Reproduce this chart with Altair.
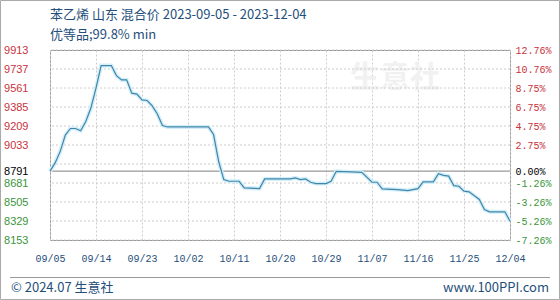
import altair as alt
import pandas as pd

# ---------------- data ----------------
dates = ["2023-09-05", "2023-09-06", "2023-09-07", "2023-09-08", "2023-09-09", "2023-09-10",
         "2023-09-11", "2023-09-12", "2023-09-13", "2023-09-14", "2023-09-15", "2023-09-17",
         "2023-09-18", "2023-09-19", "2023-09-20", "2023-09-21", "2023-09-22", "2023-09-23",
         "2023-09-24", "2023-09-25", "2023-09-26", "2023-09-27", "2023-09-28", "2023-10-06",
         "2023-10-07", "2023-10-08", "2023-10-09", "2023-10-10", "2023-10-12", "2023-10-13",
         "2023-10-16", "2023-10-17", "2023-10-22", "2023-10-23", "2023-10-24", "2023-10-25",
         "2023-10-26", "2023-10-27", "2023-10-29", "2023-10-30", "2023-10-31", "2023-11-03",
         "2023-11-05", "2023-11-07", "2023-11-08", "2023-11-09", "2023-11-12", "2023-11-14",
         "2023-11-15", "2023-11-16", "2023-11-17", "2023-11-19", "2023-11-20", "2023-11-21",
         "2023-11-22", "2023-11-23", "2023-11-24", "2023-11-25", "2023-11-26", "2023-11-28",
         "2023-11-29", "2023-11-30", "2023-12-03", "2023-12-04"]
prices = [8791, 8867, 8974, 9125, 9186, 9186,
          9165, 9251, 9375, 9560, 9769, 9769,
          9676, 9636, 9636, 9513, 9504, 9451,
          9445, 9395, 9320, 9214, 9200, 9200,
          9130, 8880, 8713, 8697, 8697, 8636,
          8629, 8719, 8719, 8728, 8713, 8719,
          8688, 8676, 8676, 8697, 8789, 8784,
          8780, 8688, 8688, 8627, 8620, 8611,
          8620, 8629, 8691, 8691, 8768, 8752,
          8745, 8657, 8651, 8605, 8599, 8528,
          8435, 8414, 8414, 8327]

base_price = 8791
grid_values = [8153, 8329, 8505, 8681, 8857, 9033, 9209, 9385, 9561, 9737, 9913]
left_ticks = [8153, 8329, 8505, 8681, 8791, 9033, 9209, 9385, 9561, 9737, 9913]
right_labels = ["-7.26%", "-5.26%", "-3.26%", "-1.26%", "0.00%", "2.75%",
                "4.75%", "6.75%", "8.75%", "10.76%", "12.76%"]
x_ticks = [(2023, 9, 5), (2023, 9, 14), (2023, 9, 23), (2023, 10, 2), (2023, 10, 11),
           (2023, 10, 20), (2023, 10, 29), (2023, 11, 7), (2023, 11, 16), (2023, 11, 25),
           (2023, 12, 4)]

title_text = "苯乙烯 山东 混合价 2023-09-05 - 2023-12-04"
subtitle_text = "优等品;99.8% min"
footer_left = "© 2024.07 生意社"
footer_right = "www.100PPI.com"
watermark = "生意社"

# ---------------- chart ----------------
line_df = pd.DataFrame({"date": dates, "price": prices})
grid_df = pd.DataFrame({"v": grid_values})
base_df = pd.DataFrame({"v": [base_price]})

RED = "#c8323c"
GREEN = "#3a963a"
BLUE_TXT = "#1f4f7a"

ydomain = [8153, 9913]
yscale = alt.Scale(domain=ydomain, nice=False, zero=False)
xscale = alt.Scale(type="utc",
                   domain=[alt.DateTime(year=2023, month=9, date=5, utc=True),
                           alt.DateTime(year=2023, month=12, date=4, utc=True)])

color_expr = f"datum.value > {base_price} ? '{RED}' : (datum.value == {base_price} ? '#000000' : '{GREEN}')"

left_axis = alt.Axis(values=left_ticks, title=None, grid=False, domain=False, ticks=False,
                     labelPadding=22, labelFont="Liberation Sans", labelFontSize=11,
                     labelFlush=False, labelOverlap=False,
                     labelColor=alt.ExprRef(expr=color_expr), format="d")

tick_list = ",".join(str(v) for v in left_ticks)
lab_list = ",".join("'" + s + "'" for s in right_labels)
right_axis = alt.Axis(values=left_ticks, orient="right", title=None, grid=False, domain=False,
                      ticks=False, labelPadding=5, labelFont="Liberation Mono", labelFontSize=10,
                      labelFlush=False, labelOverlap=False,
                      labelColor=alt.ExprRef(expr=color_expr),
                      labelExpr=f"[{lab_list}][indexof([{tick_list}], datum.value)]")

x_axis = alt.Axis(values=[alt.DateTime(year=y, month=m, date=d, utc=True) for y, m, d in x_ticks],
                  title=None, grid=True, gridColor="#cccccc", gridDash=[2, 2], domain=False,
                  ticks=False, labelPadding=13, labelFont="Liberation Mono", labelFontSize=10,
                  labelFlush=False, labelOverlap=False,
                  labelColor=BLUE_TXT, labelExpr="utcFormat(datum.value, '%m/%d')")

grid = alt.Chart(grid_df).mark_rule(color="#cccccc", strokeDash=[2, 2], strokeWidth=1).encode(
    y=alt.Y("v:Q", scale=yscale, axis=left_axis))
base_rule = alt.Chart(base_df).mark_rule(color="#999999", strokeWidth=1.2).encode(
    y=alt.Y("v:Q", scale=yscale, axis=left_axis))

wm = alt.Chart(pd.DataFrame({"t": [watermark]})).mark_text(
    font="Noto Sans CJK SC", fontSize=30, fontWeight="bold", color="#f1f1f1", align="left",
    baseline="middle").encode(text="t:N", x=alt.value(300), y=alt.value(28))

halo = alt.Chart(line_df).mark_line(color="#d3eef8", strokeWidth=4).encode(
    x=alt.X("date:T", scale=xscale, axis=x_axis),
    y=alt.Y("price:Q", scale=yscale, axis=left_axis))
line = alt.Chart(line_df).mark_line(color="#3f86aa", strokeWidth=1.2).encode(
    x=alt.X("date:T", scale=xscale, axis=x_axis),
    y=alt.Y("price:Q", scale=yscale, axis=left_axis))

inner = alt.layer(wm, grid, base_rule, halo, line)

right = alt.Chart(line_df).mark_line(opacity=0).encode(
    x=alt.X("date:T", scale=xscale, axis=x_axis),
    y=alt.Y("price:Q", scale=yscale, axis=right_axis))

def txt(s, x, y, size, align="left", color=BLUE_TXT, font="Noto Sans CJK SC"):
    return alt.Chart(pd.DataFrame({"t": [s]})).mark_text(
        font=font, fontSize=size, color=color, align=align, baseline="middle").encode(
        text="t:N", x=alt.value(x), y=alt.value(y))

title = txt(title_text, 0, -35, 13)
subtitle = txt(subtitle_text, 0, -15, 13)
f_left = txt(footer_left, -39, 238, 13)
f_right = txt(footer_right, 499, 238, 13, align="right")

footer_line = alt.Chart(pd.DataFrame({"a": [0]})).mark_rule(color="#999999", strokeWidth=1).encode(
    x=alt.value(-40), x2=alt.value(500), y=alt.value(227.5))
border = alt.Chart(pd.DataFrame({"a": [0]})).mark_rect(
    filled=False, stroke="#aaaaaa", strokeWidth=1).encode(
    x=alt.value(-49.5), x2=alt.value(509.5), y=alt.value(-49.5), y2=alt.value(249.5))

chart = alt.layer(inner, right, title, subtitle, f_left, f_right, footer_line, border).resolve_scale(
    y="independent").resolve_axis(y="independent").properties(
    width=460, height=190,
    autosize=alt.AutoSizeParams(type="none"),
    padding={"left": 50, "top": 50, "right": 50, "bottom": 60},
    background="white",
).configure_view(stroke="#999999", strokeWidth=1)

chart.save("out.html", embed_options={"renderer": "svg", "actions": False})
